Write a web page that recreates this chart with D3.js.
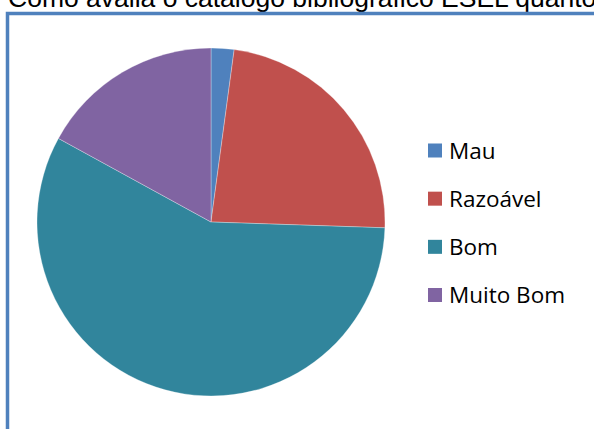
<!DOCTYPE html>
<html>
<head>
<meta charset="utf-8">
<script src="https://cdn.jsdelivr.net/npm/d3@7"></script>
<style>
  body { margin: 0; background: #fff; }
  svg { display: block; }
</style>
</head>
<body>
<script>
// Chart data
const categories = ["Mau", "Razoável", "Bom", "Muito Bom"];
const counts = [1, 11, 27, 8];
const colors = ["#4F81BD", "#C0504D", "#31859C", "#8064A2"];
const title = "Como avalia o catálogo bibliográfico ESEL quanto à sua utilidade?";

const width = 594, height = 429;

const svg = d3.select("body")
  .append("svg")
  .attr("width", width)
  .attr("height", height);

// Title (cut off at the top, like the reference)
svg.append("text")
  .attr("x", 8)
  .attr("y", 7)
  .attr("font-family", "Liberation Sans, Arial, sans-serif")
  .attr("font-size", 26.5)
  .attr("fill", "#000")
  .text(title);

// Chart frame
svg.append("rect")
  .attr("x", 7.5)
  .attr("y", 13.5)
  .attr("width", 700)
  .attr("height", 500)
  .attr("fill", "none")
  .attr("stroke", "#4F81BD")
  .attr("stroke-width", 3.5);

// Pie
const cx = 211, cy = 222, radius = 174;

const pie = d3.pie().sort(null).value(d => d);
const arc = d3.arc().innerRadius(0).outerRadius(radius);

const color = d3.scaleOrdinal().domain(categories).range(colors);

const g = svg.append("g")
  .attr("transform", "translate(" + cx + "," + cy + ")");

g.selectAll("path")
  .data(pie(counts))
  .enter()
  .append("path")
  .attr("d", arc)
  .attr("fill", (d, i) => color(categories[i]))
  .attr("stroke", "#fff")
  .attr("stroke-opacity", 0.6)
  .attr("stroke-width", 0.5);

// Legend
const legendY = d3.scalePoint()
  .domain(categories)
  .range([150.5, 295]);

const legend = svg.selectAll(".legend")
  .data(categories)
  .enter()
  .append("g")
  .attr("class", "legend")
  .attr("transform", d => "translate(428," + legendY(d) + ")");

legend.append("rect")
  .attr("x", 0)
  .attr("y", -7)
  .attr("width", 14)
  .attr("height", 14)
  .attr("fill", d => color(d));

legend.append("text")
  .attr("x", 21)
  .attr("y", 0)
  .attr("dy", "0.36em")
  .attr("font-family", "Open Sans, sans-serif")
  .attr("font-size", 22.5)
  .attr("fill", "#000")
  .text(d => d);
</script>
</body>
</html>
